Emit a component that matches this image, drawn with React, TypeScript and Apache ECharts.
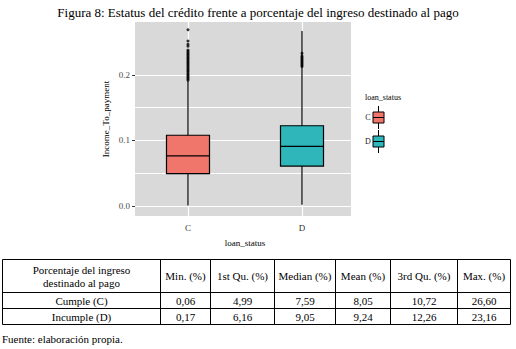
import React, { useEffect, useRef } from "react";
import * as echarts from "echarts";

// ---------- data ----------
const TITLE = "Figura 8: Estatus del crédito frente a porcentaje del ingreso destinado al pago";
const categories = ["C", "D"];
const boxColors = ["#F0766B", "#2FB6BB"];
// [min, Q1, median, Q3, upper whisker end]
const boxC = [0.0006, 0.0495, 0.0765, 0.108, 0.191];
const boxD = [0.0017, 0.061, 0.091, 0.1225, 0.267];
const outliersC = [
  0.192, 0.194, 0.196, 0.198, 0.2, 0.202, 0.204, 0.206, 0.208, 0.21, 0.212, 0.214,
  0.216, 0.218, 0.22, 0.222, 0.224, 0.226, 0.228, 0.23, 0.232, 0.234, 0.236, 0.238,
  0.244, 0.247, 0.252, 0.269,
];
const outliersD = [0.213, 0.215, 0.217, 0.219, 0.221, 0.223, 0.225, 0.227, 0.229, 0.233];
const yTicks = [0, 0.1, 0.2];
const yMinorGrid = [0.05, 0.15];
const yTitle = "Income_To_payment";
const xTitle = "loan_status";
const legendTitle = "loan_status";

const tableHeader = [
  "Porcentaje del ingreso\ndestinado al pago",
  "Min. (%)",
  "1st Qu. (%)",
  "Median (%)",
  "Mean (%)",
  "3rd Qu. (%)",
  "Max. (%)",
];
const rowLabels = ["Cumple (C)", "Incumple (D)"];
const cumpleValues = ["0,06", "4,99", "7,59", "8,05", "10,72", "26,60"];
const incumpleValues = ["0,17", "6,16", "9,05", "9,24", "12,26", "23,16"];
const sourceNote = "Fuente: elaboración propia.";

// ---------- layout ----------
const FONT = "Liberation Serif";
const Y_MIN = -0.0153;
const Y_MAX = 0.2809;
const BOX_W = 43;
const colX = [2.5, 160.5, 210.5, 274.5, 335.5, 390.5, 457.5, 510.5];
const rowY = [259.5, 292.5, 308.5, 324.5];

function txt(text: string, x: number, y: number, size: number, align = "center", color = "#000", lineHeight?: number) {
  return {
    type: "text",
    x,
    y,
    silent: true,
    style: {
      legacy: false,
      text,
      fill: color,
      font: `${size}px ${FONT}`,
      fontFamily: FONT,
      fontSize: size,
      align,
      verticalAlign: "middle",
      lineHeight: lineHeight || Math.round(size * 1.2),
    },
  };
}

function hline(x1: number, x2: number, y: number, color = "#000", w = 1) {
  return { type: "line", silent: true, shape: { x1, y1: y, x2, y2: y }, style: { stroke: color, lineWidth: w } };
}
function vline(x: number, y1: number, y2: number, color = "#000", w = 1) {
  return { type: "line", silent: true, shape: { x1: x, y1, x2: x, y2 }, style: { stroke: color, lineWidth: w } };
}

function buildGraphics() {
  const g: any[] = [];
  rowY.forEach((y) => g.push(hline(colX[0], colX[colX.length - 1], y)));
  colX.forEach((x) => g.push(vline(x, rowY[0], rowY[rowY.length - 1])));
  const rows = [cumpleValues, incumpleValues];
  tableHeader.forEach((h, i) => {
    const cx = (colX[i] + colX[i + 1]) / 2;
    g.push(txt(h, cx, (rowY[0] + rowY[1]) / 2, 11, "center", "#000", 13));
  });
  rows.forEach((vals, r) => {
    const cy = (rowY[r + 1] + rowY[r + 2]) / 2;
    g.push(txt(rowLabels[r], (colX[0] + colX[1]) / 2, cy, 11));
    vals.forEach((v, i) => {
      g.push(txt(v, (colX[i + 1] + colX[i + 2]) / 2, cy, 11));
    });
  });
  g.push(txt(sourceNote, 2, 339, 11, "left"));

  // legend
  g.push(txt(legendTitle, 365, 97, 8, "left"));
  categories.forEach((c, i) => {
    const cy = 117.5 + i * 24;
    g.push(txt(c, 368, cy, 8, "center", "#222"));
    g.push(vline(378.5, cy - 11.5, cy + 11.5, "#000", 1));
    g.push({
      type: "rect",
      silent: true,
      shape: { x: 373, y: cy - 5.5, width: 11, height: 11 },
      style: { fill: boxColors[i], stroke: "#000", lineWidth: 1 },
    });
    g.push(hline(373, 384, cy, "#000", 1));
  });
  return g;
}

function renderBox(params: any, api: any) {
  const idx = api.value(0);
  const pMin = api.coord([idx, api.value(1)]);
  const pQ1 = api.coord([idx, api.value(2)]);
  const pMed = api.coord([idx, api.value(3)]);
  const pQ3 = api.coord([idx, api.value(4)]);
  const pMax = api.coord([idx, api.value(5)]);
  const x = pMin[0];
  const half = BOX_W / 2;
  const color = boxColors[params.dataIndex % boxColors.length];
  return {
    type: "group",
    children: [
      {
        type: "line",
        shape: { x1: x, y1: pMin[1], x2: x, y2: pMax[1] },
        style: { stroke: "#000", lineWidth: 1.2 },
      },
      {
        type: "rect",
        shape: { x: x - half, y: pQ3[1], width: BOX_W, height: pQ1[1] - pQ3[1] },
        style: { fill: color, stroke: "#000", lineWidth: 1.2 },
      },
      {
        type: "line",
        shape: { x1: x - half, y1: pMed[1], x2: x + half, y2: pMed[1] },
        style: { stroke: "#000", lineWidth: 1.2 },
      },
    ],
  };
}

const option: any = {
  animation: false,
  backgroundColor: "#fff",
  title: {
    text: TITLE,
    left: "center",
    top: 1,
    textStyle: { fontFamily: FONT, fontSize: 13, fontWeight: "normal", color: "#000" },
  },
  grid: [
    { left: 135, top: 22, width: 216, height: 194, show: true, backgroundColor: "#D9D9D9", borderWidth: 0, z: 0 },
    { left: 131, top: 22, width: 228, height: 194 },
  ],
  xAxis: [
    { gridIndex: 0, type: "value", min: 0, max: 1, show: false },
    {
      gridIndex: 1,
      type: "category",
      data: categories,
      axisLine: { show: false },
      axisTick: { show: true, alignWithLabel: true, length: 3, lineStyle: { color: "#333", width: 1 } },
      axisLabel: { margin: 7, color: "#333", fontFamily: FONT, fontSize: 9 },
      splitLine: { show: false },
      name: xTitle,
      nameLocation: "middle",
      nameGap: 22,
      nameTextStyle: { fontFamily: FONT, fontSize: 9, color: "#000" },
    },
  ],
  yAxis: [
    {
      gridIndex: 0,
      type: "value",
      min: Y_MIN,
      max: Y_MAX,
      axisLine: { show: false },
      axisTick: { show: true, length: 3, customValues: yTicks, lineStyle: { color: "#333", width: 1 } },
      axisLabel: {
        customValues: yTicks,
        formatter: (v: number) => v.toFixed(1),
        margin: 5,
        color: "#4D4D4D",
        fontFamily: FONT,
        fontSize: 9,
      },
      splitLine: { show: false },
      name: yTitle,
      nameLocation: "middle",
      nameRotate: 90,
      nameGap: 25,
      nameTextStyle: { fontFamily: FONT, fontSize: 9, color: "#000" },
    },
    { gridIndex: 1, type: "value", min: Y_MIN, max: Y_MAX, show: false },
  ],
  series: [
    {
      type: "scatter",
      xAxisIndex: 0,
      yAxisIndex: 0,
      data: [],
      silent: true,
      markLine: {
        silent: true,
        z: 1,
        symbol: "none",
        label: { show: false },
        lineStyle: { color: "#FFFFFF", width: 1, type: "solid" },
        data: [...yTicks, ...yMinorGrid].map((v) => ({ yAxis: v })),
      },
    },
    {
      type: "scatter",
      xAxisIndex: 1,
      yAxisIndex: 1,
      data: [],
      silent: true,
      markLine: {
        silent: true,
        z: 1,
        symbol: "none",
        label: { show: false },
        lineStyle: { color: "#FFFFFF", width: 1.2, type: "solid" },
        data: categories.map((c) => ({ xAxis: c })),
      },
    },
    {
      type: "custom",
      xAxisIndex: 1,
      yAxisIndex: 1,
      z: 2,
      silent: true,
      renderItem: renderBox,
      encode: { x: 0, y: [1, 2, 3, 4, 5] },
      data: [
        [0, ...boxC],
        [1, ...boxD],
      ],
    },
    {
      type: "scatter",
      xAxisIndex: 1,
      yAxisIndex: 1,
      symbolSize: 3,
      z: 3,
      silent: true,
      itemStyle: { color: "#000" },
      data: [...outliersC.map((v) => [categories[0], v]), ...outliersD.map((v) => [categories[1], v])],
    },
  ],
  graphic: buildGraphics(),
};

export default function App() {
  const ref = useRef<HTMLDivElement>(null);
  useEffect(() => {
    if (!ref.current) return;
    const chart = echarts.init(ref.current, null, { renderer: "svg" });
    chart.setOption(option);
    return () => chart.dispose();
  }, []);
  return <div ref={ref} style={{ position: "absolute", left: 0, top: 0, width: 516, height: 349 }} />;
}
